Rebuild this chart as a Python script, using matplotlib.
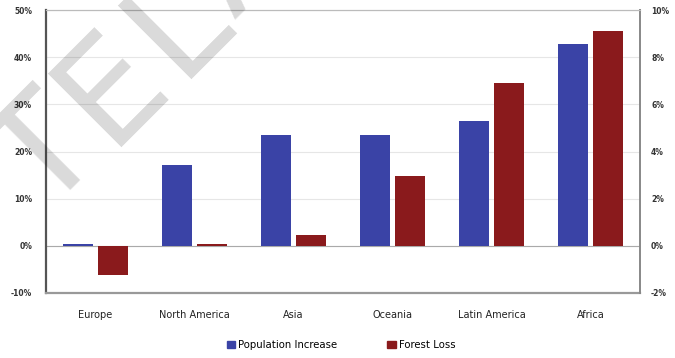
import matplotlib
matplotlib.use("Agg")
import matplotlib.pyplot as plt
import numpy as np
from matplotlib.patches import Patch

categories = ["Europe", "North America", "Asia", "Oceania", "Latin America", "Africa"]
population_increase = [0.4, 17.2, 23.6, 23.6, 26.4, 42.7]   # left axis, %
forest_loss = [-1.25, 0.06, 0.48, 2.94, 6.9, 9.12]           # right axis, %
left_ticks = [-10, 0, 10, 20, 30, 40, 50]
right_ticks = [-2, 0, 2, 4, 6, 8, 10]
watermark = "TELA"

blue = "#3a43a6"
red = "#8a1a1c"

W, H = 675, 358
fig = plt.figure(figsize=(W/100, H/100), dpi=100)
ax = fig.add_axes([46/W, 1-293/H, (640-46)/W, (293-10)/H])
ax2 = ax.twinx()

x = np.arange(len(categories))
w = 0.30
off = 0.175
ax.bar(x - off, population_increase, w, color=blue, zorder=3)
ax2.bar(x + off, forest_loss, w, color=red, zorder=3)

ax.set_ylim(-10, 50)
ax2.set_ylim(-2, 10)
ax.set_xlim(-0.5, len(categories) - 0.5)
ax.set_yticks(left_ticks)
ax.set_yticklabels([f"{t}%" for t in left_ticks])
ax2.set_yticks(right_ticks)
ax2.set_yticklabels([f"{t}%" for t in right_ticks])
for a in (ax, ax2):
    a.tick_params(axis="y", length=0, labelsize=5.5, labelcolor="#333333")
for lab in ax.get_yticklabels() + ax2.get_yticklabels():
    lab.set_fontweight("bold")
ax.tick_params(axis="y", pad=10)
ax2.tick_params(axis="y", pad=8)
ax.set_xticks(x)
ax.set_xticklabels(categories, fontsize=7, color="#222222")
ax.tick_params(axis="x", length=0, pad=12)

ax.yaxis.grid(True, color="#e6e6e6", linewidth=0.8, zorder=0)
ax.set_axisbelow(True)
ax.axhline(0, color="#aaaaaa", linewidth=0.8, zorder=2)

ax.spines["left"].set_color("#555555")
ax.spines["left"].set_linewidth(1.6)
ax.spines["bottom"].set_color("#999999")
ax.spines["bottom"].set_linewidth(1.6)
ax.spines["top"].set_color("#bbbbbb")
ax.spines["right"].set_visible(False)
ax2.spines["left"].set_visible(False)
ax2.spines["bottom"].set_visible(False)
ax2.spines["top"].set_color("#bbbbbb")
ax2.spines["right"].set_color("#888888")
ax2.spines["right"].set_linewidth(1.4)

handles = [Patch(color=blue, label="Population Increase"), Patch(color=red, label="Forest Loss")]
fig.legend(handles=handles, loc="center", bbox_to_anchor=(0.505, 1-345/H), ncol=2,
           frameon=False, fontsize=7.3, handlelength=0.8, handleheight=0.8,
           handletextpad=0.3, columnspacing=5)

# watermark letters, baseline-centre anchors in pixels
anchors = [(75, 185), (140, 115), (206, 51), (270, -14)]
for ch, (px, py) in zip(watermark, anchors):
    fig.text(px/W, 1-py/H, ch, rotation=45, rotation_mode="anchor",
             ha="center", va="baseline", fontsize=103, fontweight="normal",
             color="black", alpha=0.15, zorder=10, clip_on=False)

fig.savefig("out.png", dpi=100)
